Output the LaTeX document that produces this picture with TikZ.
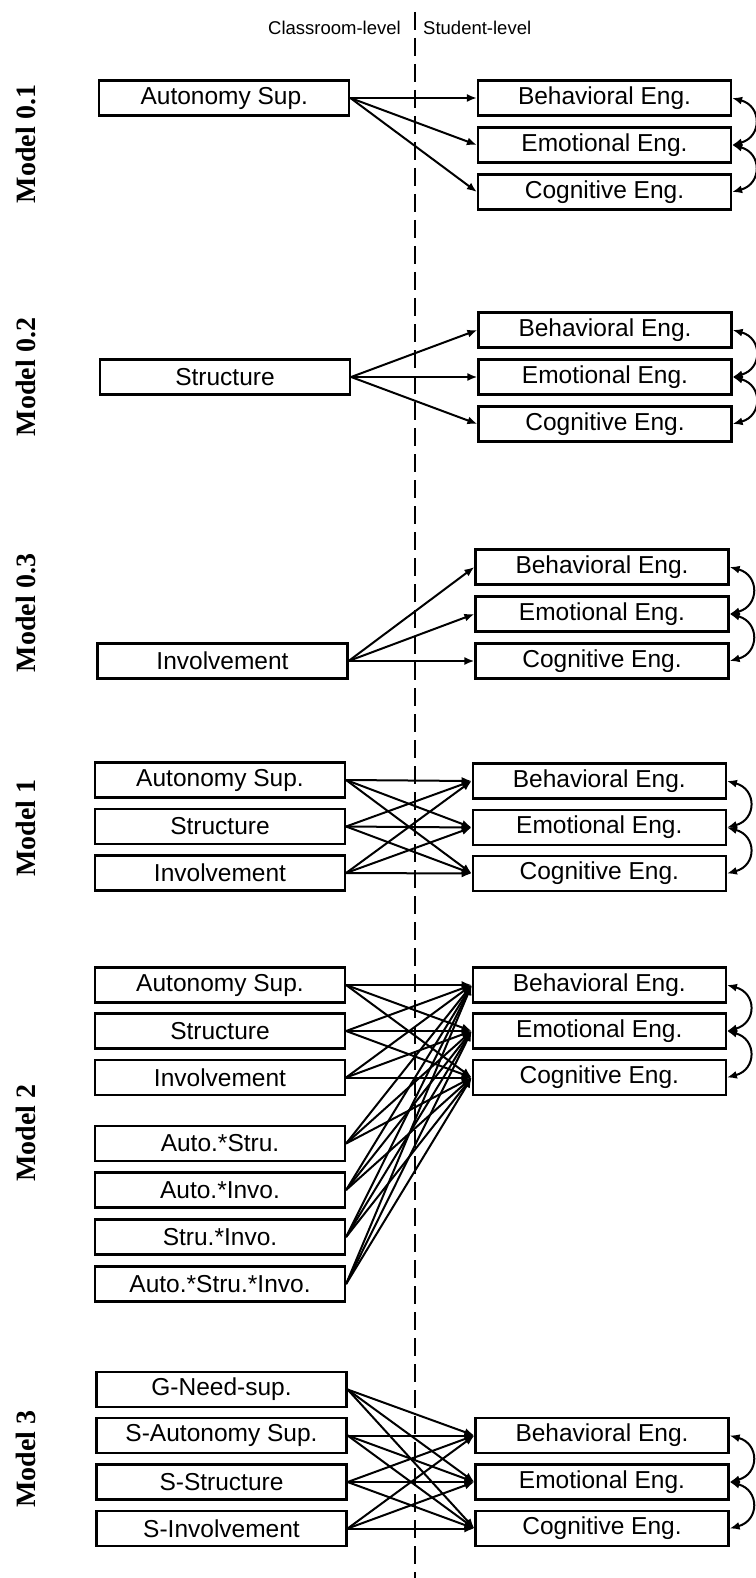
\documentclass[tikz,border=0pt]{standalone}
\usepackage{fontspec}
\usetikzlibrary{arrows.meta}
\newfontfamily\arialf{Liberation Sans}
\newfontfamily\timesf{Liberation Serif}
\begin{document}
\begin{tikzpicture}[x=1pt,y=-1pt,
  lbox/.style={draw, line width=2.2pt, minimum width=250pt, minimum height=35pt, inner sep=0pt,
    font=\arialf\fontsize{24.5}{29}\selectfont},
  rbox/.style={lbox, minimum width=253pt},
  conn/.style={line width=2pt, -{Latex[length=10pt,width=8pt]}},
  cov/.style={line width=2pt, {Latex[length=10pt,width=8pt]}-{Latex[length=10pt,width=8pt]}},
  mlabel/.style={rotate=90, inner sep=0pt, font=\timesf\bfseries\fontsize{28}{32}\selectfont},
  hdr/.style={inner sep=0pt, font=\arialf\fontsize{18.5}{22}\selectfont},
  divider/.style={line width=2pt, dash pattern=on 18pt off 8pt}
]
\fill[white] (0,0) rectangle (755,1578);
\useasboundingbox (0,0) rectangle (755,1578);

% divider and header
\coordinate (dtop) at (415,12);
\coordinate (dbot) at (415,1578);
\draw[divider] (dtop) -- (dbot);
\node[hdr, anchor=base east] (hcl) at (401,35) {Classroom-level};
\node[hdr, anchor=base west] (hsl) at (423,35) {Student-level};

% Model labels
\node[mlabel] (m01) at (26,144) {Model 0.1};
\node[mlabel] (m02) at (26,377) {Model 0.2};
\node[mlabel] (m03) at (26,613) {Model 0.3};
\node[mlabel] (m1) at (26,828) {Model 1};
\node[mlabel] (m2) at (26,1133) {Model 2};
\node[mlabel] (m3) at (26,1459) {Model 3};

% Model 0.1
\node[lbox] (aA) at (224.3,98) {Autonomy Sup.};
\node[rbox] (aB) at (604.5,98) {Behavioral Eng.};
\node[rbox] (aE) at (604.5,145) {Emotional Eng.};
\node[rbox] (aC) at (604.5,192) {Cognitive Eng.};
\foreach \t in {aB,aE,aC} \draw[conn] (aA.east) -- (\t.west);
\draw[cov] (aB.east) .. controls +(30,8) and +(30,-8) .. (aE.east);
\draw[cov] (aE.east) .. controls +(30,8) and +(30,-8) .. (aC.east);

% Model 0.2
\node[lbox] (bS) at (225,377) {Structure};
\node[rbox] (bB) at (605,330) {Behavioral Eng.};
\node[rbox] (bE) at (605,377) {Emotional Eng.};
\node[rbox] (bC) at (605,424) {Cognitive Eng.};
\foreach \t in {bB,bE,bC} \draw[conn] (bS.east) -- (\t.west);
\draw[cov] (bB.east) .. controls +(30,8) and +(30,-8) .. (bE.east);
\draw[cov] (bE.east) .. controls +(30,8) and +(30,-8) .. (bC.east);

% Model 0.3
\node[lbox] (cI) at (222.5,661) {Involvement};
\node[rbox] (cB) at (602,567) {Behavioral Eng.};
\node[rbox] (cE) at (602,614) {Emotional Eng.};
\node[rbox] (cC) at (602,661) {Cognitive Eng.};
\foreach \t in {cB,cE,cC} \draw[conn] (cI.east) -- (\t.west);
\draw[cov] (cB.east) .. controls +(30,8) and +(30,-8) .. (cE.east);
\draw[cov] (cE.east) .. controls +(30,8) and +(30,-8) .. (cC.east);

% Model 1
\node[lbox] (dA) at (220,780) {Autonomy Sup.};
\node[lbox] (dS) at (220,826.5) {Structure};
\node[lbox] (dI) at (220,873) {Involvement};
\node[rbox] (dB) at (599.3,781) {Behavioral Eng.};
\node[rbox] (dE) at (599.3,827.5) {Emotional Eng.};
\node[rbox] (dC) at (599.3,873.5) {Cognitive Eng.};
\foreach \s in {dA,dS,dI} \foreach \t in {dB,dE,dC} \draw[conn] (\s.east) -- (\t.west);
\draw[cov] (dB.east) .. controls +(30,8) and +(30,-8) .. (dE.east);
\draw[cov] (dE.east) .. controls +(30,8) and +(30,-8) .. (dC.east);

% Model 2
\node[lbox] (eA) at (220,985) {Autonomy Sup.};
\node[lbox] (eS) at (220,1031) {Structure};
\node[lbox] (eI) at (220,1077.5) {Involvement};
\node[lbox] (eAS) at (220,1143.5) {Auto.*Stru.};
\node[lbox] (eAI) at (220,1190) {Auto.*Invo.};
\node[lbox] (eSI) at (220,1237) {Stru.*Invo.};
\node[lbox] (eASI) at (220,1284) {Auto.*Stru.*Invo.};
\node[rbox] (eB) at (599.3,985) {Behavioral Eng.};
\node[rbox] (eE) at (599.3,1031) {Emotional Eng.};
\node[rbox] (eC) at (599.3,1077.5) {Cognitive Eng.};
\foreach \s in {eA,eS,eI,eAS,eAI,eSI,eASI} \foreach \t in {eB,eE,eC} \draw[conn] (\s.east) -- (\t.west);
\draw[cov] (eB.east) .. controls +(30,8) and +(30,-8) .. (eE.east);
\draw[cov] (eE.east) .. controls +(30,8) and +(30,-8) .. (eC.east);

% Model 3
\node[lbox] (fG) at (221.5,1389.5) {G-Need-sup.};
\node[lbox] (fA) at (221.5,1435.5) {S-Autonomy Sup.};
\node[lbox] (fS) at (221.5,1482) {S-Structure};
\node[lbox] (fI) at (221.5,1528.5) {S-Involvement};
\node[rbox] (fB) at (602,1435.5) {Behavioral Eng.};
\node[rbox] (fE) at (602,1482) {Emotional Eng.};
\node[rbox] (fC) at (602,1528.5) {Cognitive Eng.};
\foreach \s in {fG,fA,fS,fI} \foreach \t in {fB,fE,fC} \draw[conn] (\s.east) -- (\t.west);
\draw[cov] (fB.east) .. controls +(30,8) and +(30,-8) .. (fE.east);
\draw[cov] (fE.east) .. controls +(30,8) and +(30,-8) .. (fC.east);
\end{tikzpicture}
\end{document}
